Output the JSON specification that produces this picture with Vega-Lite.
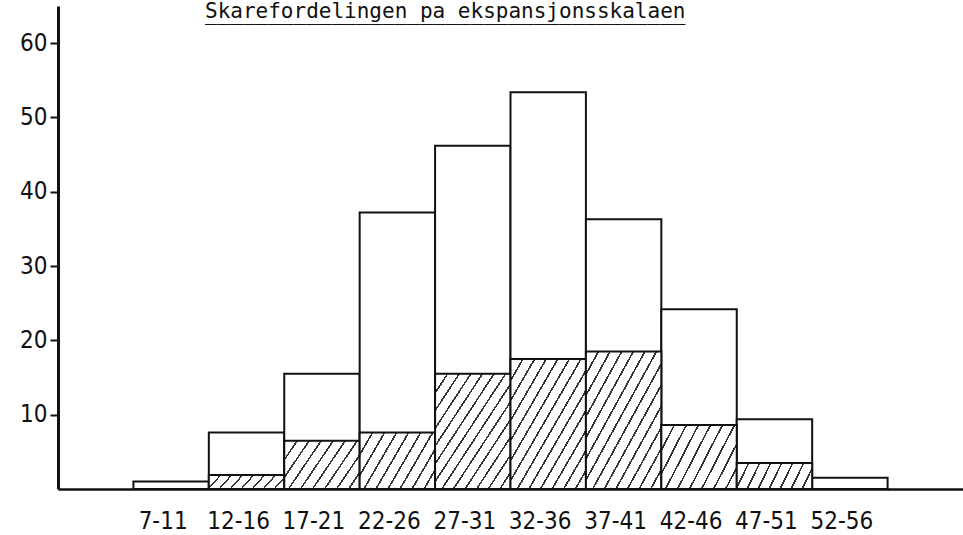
{
  "$schema": "https://vega.github.io/schema/vega-lite/v6.json",
  "width": 905,
  "height": 483,
  "autosize": {"type": "none"},
  "padding": {"left": 58, "top": 6, "right": 0, "bottom": 46},
  "background": "white",
  "title": {
    "text": ["Skarefordelingen pa ekspansjonsskalaen", "______________________________________"],
    "font": "DejaVu Sans Mono",
    "fontSize": 21,
    "fontWeight": "normal",
    "color": "#111",
    "anchor": "start",
    "frame": "group",
    "baseline": "alphabetic",
    "lineHeight": 2,
    "offset": 0,
    "dx": 147,
    "dy": 35
  },
  "config": {"view": {"stroke": null}, "font": "DejaVu Sans Condensed"},
  "data": {
    "values": [
      {"range": "7-11", "total": 1.0, "hatched": 0},
      {"range": "12-16", "total": 7.6, "hatched": 1.9},
      {"range": "17-21", "total": 15.5, "hatched": 6.5},
      {"range": "22-26", "total": 37.2, "hatched": 7.6},
      {"range": "27-31", "total": 46.2, "hatched": 15.5},
      {"range": "32-36", "total": 53.4, "hatched": 17.5},
      {"range": "37-41", "total": 36.3, "hatched": 18.5},
      {"range": "42-46", "total": 24.2, "hatched": 8.6},
      {"range": "47-51", "total": 9.4, "hatched": 3.5},
      {"range": "52-56", "total": 1.5, "hatched": 0}
    ]
  },
  "encoding": {
    "x": {
      "field": "range",
      "type": "ordinal",
      "sort": null,
      "scale": {"paddingInner": 0, "paddingOuter": 1},
      "axis": {
        "title": null,
        "labelAngle": 0,
        "ticks": false,
        "domainColor": "#111",
        "domainWidth": 2.5,
        "labelFont": "DejaVu Sans Condensed",
        "labelFontSize": 24,
        "labelColor": "#111",
        "labelPadding": 20,
        "labelOffset": -8
      }
    }
  },
  "layer": [
    {
      "mark": {"type": "bar", "fill": "white", "stroke": "#111", "strokeWidth": 2},
      "encoding": {
        "y": {
          "field": "total",
          "type": "quantitative",
          "scale": {"domain": [0, 64]},
          "axis": {
            "title": null,
            "values": [10, 20, 30, 40, 50, 60],
            "grid": false,
            "tickSize": 8,
            "tickWidth": 2,
            "tickColor": "#111",
            "domainColor": "#111",
            "domainWidth": 3,
            "labelFont": "DejaVu Sans Condensed",
            "labelFontSize": 24,
            "labelColor": "#111",
            "labelPadding": 3
          }
        }
      }
    },
    {
      "mark": {"type": "bar", "stroke": "#111", "strokeWidth": 2},
      "encoding": {
        "y": {
          "field": "hatched",
          "type": "quantitative",
          "axis": {
            "title": null,
            "values": [10, 20, 30, 40, 50, 60],
            "grid": false,
            "tickSize": 8,
            "tickWidth": 2,
            "tickColor": "#111",
            "domainColor": "#111",
            "domainWidth": 3,
            "labelFont": "DejaVu Sans Condensed",
            "labelFontSize": 24,
            "labelColor": "#111",
            "labelPadding": 3
          }
        },
        "fill": {
          "condition": [
            {
              "test": "datum.hatched > 12",
              "value": {
                "gradient": "linear", "x1": 0, "y1": 0, "x2": 1, "y2": 1,
                "stops": [
                  {"offset": 0, "color": "#333"}, {"offset": 0.0123, "color": "#333"}, {"offset": 0.0123, "color": "white"}, {"offset": 0.0769, "color": "white"},
                  {"offset": 0.0769, "color": "#333"}, {"offset": 0.0892, "color": "#333"}, {"offset": 0.0892, "color": "white"}, {"offset": 0.1538, "color": "white"},
                  {"offset": 0.1538, "color": "#333"}, {"offset": 0.1661, "color": "#333"}, {"offset": 0.1661, "color": "white"}, {"offset": 0.2308, "color": "white"},
                  {"offset": 0.2308, "color": "#333"}, {"offset": 0.2431, "color": "#333"}, {"offset": 0.2431, "color": "white"}, {"offset": 0.3077, "color": "white"},
                  {"offset": 0.3077, "color": "#333"}, {"offset": 0.32, "color": "#333"}, {"offset": 0.32, "color": "white"}, {"offset": 0.3846, "color": "white"},
                  {"offset": 0.3846, "color": "#333"}, {"offset": 0.3969, "color": "#333"}, {"offset": 0.3969, "color": "white"}, {"offset": 0.4615, "color": "white"},
                  {"offset": 0.4615, "color": "#333"}, {"offset": 0.4738, "color": "#333"}, {"offset": 0.4738, "color": "white"}, {"offset": 0.5385, "color": "white"},
                  {"offset": 0.5385, "color": "#333"}, {"offset": 0.5508, "color": "#333"}, {"offset": 0.5508, "color": "white"}, {"offset": 0.6154, "color": "white"},
                  {"offset": 0.6154, "color": "#333"}, {"offset": 0.6277, "color": "#333"}, {"offset": 0.6277, "color": "white"}, {"offset": 0.6923, "color": "white"},
                  {"offset": 0.6923, "color": "#333"}, {"offset": 0.7046, "color": "#333"}, {"offset": 0.7046, "color": "white"}, {"offset": 0.7692, "color": "white"},
                  {"offset": 0.7692, "color": "#333"}, {"offset": 0.7815, "color": "#333"}, {"offset": 0.7815, "color": "white"}, {"offset": 0.8462, "color": "white"},
                  {"offset": 0.8462, "color": "#333"}, {"offset": 0.8585, "color": "#333"}, {"offset": 0.8585, "color": "white"}, {"offset": 0.9231, "color": "white"},
                  {"offset": 0.9231, "color": "#333"}, {"offset": 0.9354, "color": "#333"}, {"offset": 0.9354, "color": "white"}, {"offset": 1, "color": "white"}
                ]
              }
            },
            {
              "test": "datum.hatched > 5",
              "value": {
                "gradient": "linear", "x1": 0, "y1": 0, "x2": 1.2066, "y2": 0.5246,
                "stops": [
                  {"offset": 0, "color": "#333"}, {"offset": 0.0172, "color": "#333"}, {"offset": 0.0172, "color": "white"}, {"offset": 0.1111, "color": "white"},
                  {"offset": 0.1111, "color": "#333"}, {"offset": 0.1283, "color": "#333"}, {"offset": 0.1283, "color": "white"}, {"offset": 0.2222, "color": "white"},
                  {"offset": 0.2222, "color": "#333"}, {"offset": 0.2394, "color": "#333"}, {"offset": 0.2394, "color": "white"}, {"offset": 0.3333, "color": "white"},
                  {"offset": 0.3333, "color": "#333"}, {"offset": 0.3505, "color": "#333"}, {"offset": 0.3505, "color": "white"}, {"offset": 0.4444, "color": "white"},
                  {"offset": 0.4444, "color": "#333"}, {"offset": 0.4616, "color": "#333"}, {"offset": 0.4616, "color": "white"}, {"offset": 0.5556, "color": "white"},
                  {"offset": 0.5556, "color": "#333"}, {"offset": 0.5728, "color": "#333"}, {"offset": 0.5728, "color": "white"}, {"offset": 0.6667, "color": "white"},
                  {"offset": 0.6667, "color": "#333"}, {"offset": 0.6839, "color": "#333"}, {"offset": 0.6839, "color": "white"}, {"offset": 0.7778, "color": "white"},
                  {"offset": 0.7778, "color": "#333"}, {"offset": 0.795, "color": "#333"}, {"offset": 0.795, "color": "white"}, {"offset": 0.8889, "color": "white"},
                  {"offset": 0.8889, "color": "#333"}, {"offset": 0.9061, "color": "#333"}, {"offset": 0.9061, "color": "white"}, {"offset": 1, "color": "white"}
                ]
              }
            }
          ],
          "value": {
            "gradient": "linear", "x1": 0, "y1": 0, "x2": 1.135, "y2": 0.189,
            "stops": [
              {"offset": 0, "color": "#333"}, {"offset": 0.021, "color": "#333"}, {"offset": 0.021, "color": "white"}, {"offset": 0.125, "color": "white"},
              {"offset": 0.125, "color": "#333"}, {"offset": 0.146, "color": "#333"}, {"offset": 0.146, "color": "white"}, {"offset": 0.25, "color": "white"},
              {"offset": 0.25, "color": "#333"}, {"offset": 0.271, "color": "#333"}, {"offset": 0.271, "color": "white"}, {"offset": 0.375, "color": "white"},
              {"offset": 0.375, "color": "#333"}, {"offset": 0.396, "color": "#333"}, {"offset": 0.396, "color": "white"}, {"offset": 0.5, "color": "white"},
              {"offset": 0.5, "color": "#333"}, {"offset": 0.521, "color": "#333"}, {"offset": 0.521, "color": "white"}, {"offset": 0.625, "color": "white"},
              {"offset": 0.625, "color": "#333"}, {"offset": 0.646, "color": "#333"}, {"offset": 0.646, "color": "white"}, {"offset": 0.75, "color": "white"},
              {"offset": 0.75, "color": "#333"}, {"offset": 0.771, "color": "#333"}, {"offset": 0.771, "color": "white"}, {"offset": 0.875, "color": "white"},
              {"offset": 0.875, "color": "#333"}, {"offset": 0.896, "color": "#333"}, {"offset": 0.896, "color": "white"}, {"offset": 1, "color": "white"}
            ]
          }
        }
      }
    }
  ]
}
